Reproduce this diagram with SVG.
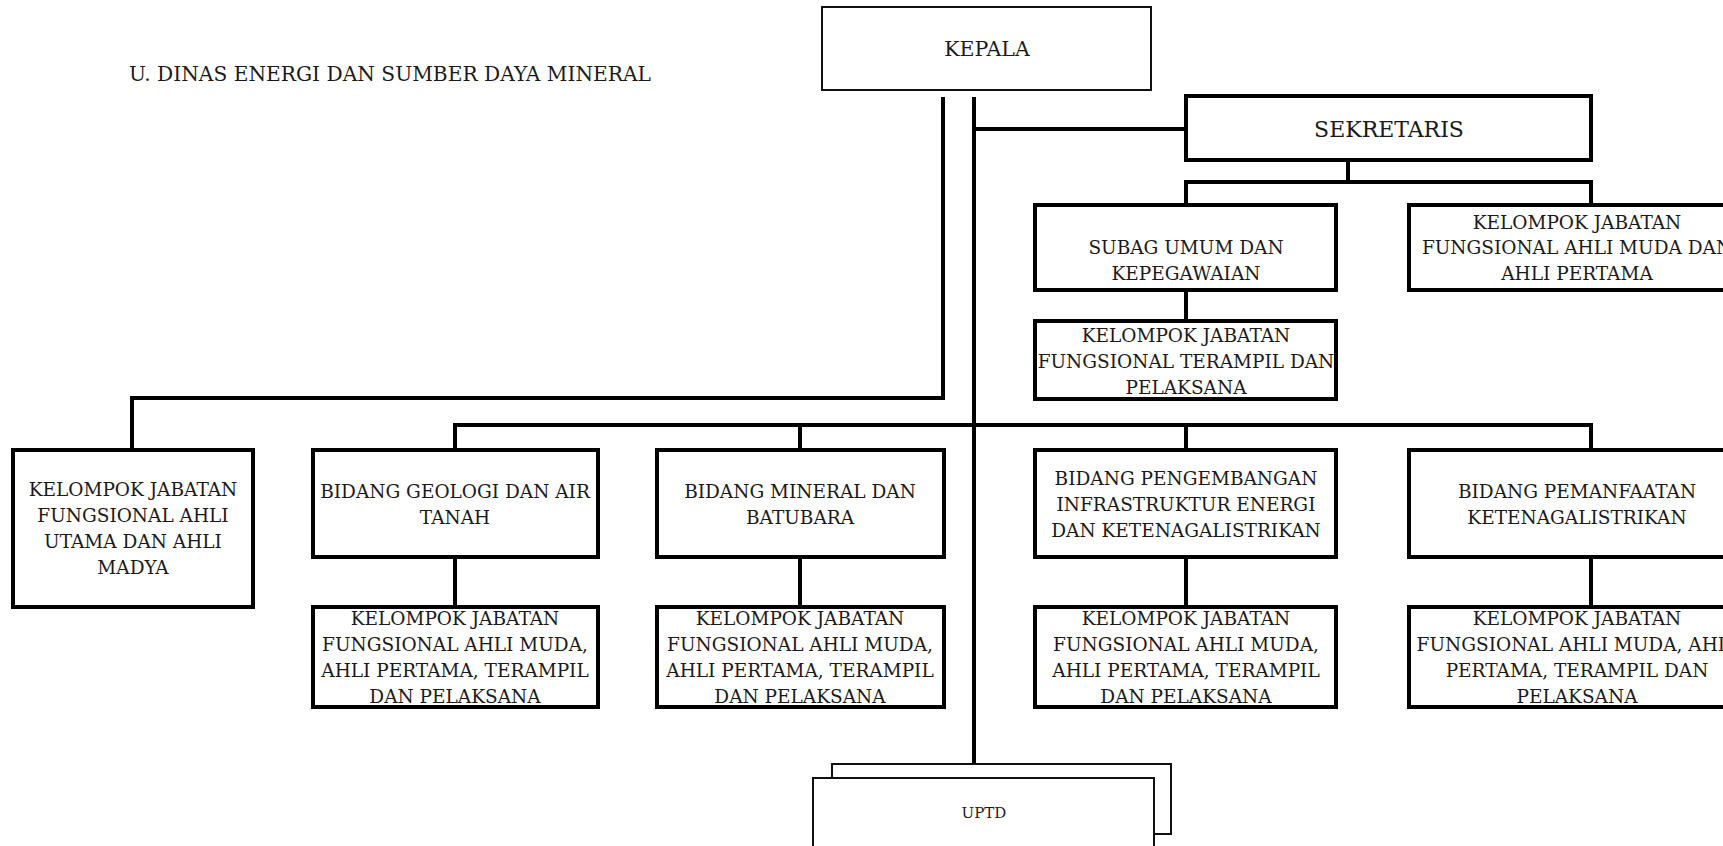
<svg xmlns="http://www.w3.org/2000/svg" width="1723" height="846" viewBox="0 0 1723 846">
<style>
.box{fill:#fff;stroke:#000;stroke-width:4}
.thin{fill:#fff;stroke:#111;stroke-width:2}
.ln{fill:none;stroke:#000;stroke-width:4}
text{font-family:"DejaVu Serif","Liberation Serif",serif;font-size:18.5px;fill:#1a1a1a;text-anchor:middle}
.title{font-size:20.2px;text-anchor:start}
</style>
<rect width="1723" height="846" fill="#fff"/>
<text class="title" x="129" y="81">U. DINAS ENERGI DAN SUMBER DAYA MINERAL</text>
<g id="connectors">
<path class="ln" d="M943 97V398H132V450"/>
<path class="ln" d="M974 97V764"/>
<path class="ln" d="M974 129H1186"/>
<path class="ln" d="M1348 160V182M1186 205V182H1591V205"/>
<path class="ln" d="M1186 290V321"/>
<path class="ln" d="M455 450V425H1591V450M800 425V450M1186 425V450"/>
<path class="ln" d="M455 557V607M800 557V607M1186 557V607M1591 557V607"/>
</g>
<g id="kepala"><rect class="thin" x="822" y="7" width="329" height="83"/><text x="987" y="56" style="font-size:20.5px">KEPALA</text></g>
<g id="sekretaris"><rect class="box" x="1186" y="96" width="405" height="64"/><text x="1389" y="137" style="font-size:22px">SEKRETARIS</text></g>
<g id="subag"><rect class="box" x="1035" y="205" width="301" height="85"/><text x="1186" y="254">SUBAG UMUM DAN</text><text x="1186" y="280">KEPEGAWAIAN</text></g>
<g id="kjf-sek"><rect class="box" x="1409" y="205" width="340" height="85"/><text x="1577" y="229">KELOMPOK JABATAN</text><text x="1577" y="254">FUNGSIONAL AHLI MUDA DAN</text><text x="1577" y="280">AHLI PERTAMA</text></g>
<g id="kjf-terampil"><rect class="box" x="1035" y="321" width="301" height="78"/><text x="1186" y="342">KELOMPOK JABATAN</text><text x="1186" y="368">FUNGSIONAL TERAMPIL DAN</text><text x="1186" y="394">PELAKSANA</text></g>
<g id="kjf-utama"><rect class="box" x="13" y="450" width="240" height="157"/><text x="133" y="496">KELOMPOK JABATAN</text><text x="133" y="522">FUNGSIONAL AHLI</text><text x="133" y="548">UTAMA DAN AHLI</text><text x="133" y="574">MADYA</text></g>
<g id="geologi"><rect class="box" x="313" y="450" width="285" height="107"/><text x="455" y="498">BIDANG GEOLOGI DAN AIR</text><text x="455" y="524">TANAH</text></g>
<g id="mineral"><rect class="box" x="657" y="450" width="287" height="107"/><text x="800" y="498">BIDANG MINERAL DAN</text><text x="800" y="524">BATUBARA</text></g>
<g id="pengembangan"><rect class="box" x="1035" y="450" width="301" height="107"/><text x="1186" y="485">BIDANG PENGEMBANGAN</text><text x="1186" y="511">INFRASTRUKTUR ENERGI</text><text x="1186" y="537">DAN KETENAGALISTRIKAN</text></g>
<g id="pemanfaatan"><rect class="box" x="1409" y="450" width="340" height="107"/><text x="1577" y="498">BIDANG PEMANFAATAN</text><text x="1577" y="524">KETENAGALISTRIKAN</text></g>
<g id="kjf-geologi"><rect class="box" x="313" y="607" width="285" height="100"/><text x="455" y="625">KELOMPOK JABATAN</text><text x="455" y="651">FUNGSIONAL AHLI MUDA,</text><text x="455" y="677">AHLI PERTAMA, TERAMPIL</text><text x="455" y="703">DAN PELAKSANA</text></g>
<g id="kjf-mineral"><rect class="box" x="657" y="607" width="287" height="100"/><text x="800" y="625">KELOMPOK JABATAN</text><text x="800" y="651">FUNGSIONAL AHLI MUDA,</text><text x="800" y="677">AHLI PERTAMA, TERAMPIL</text><text x="800" y="703">DAN PELAKSANA</text></g>
<g id="kjf-pengembangan"><rect class="box" x="1035" y="607" width="301" height="100"/><text x="1186" y="625">KELOMPOK JABATAN</text><text x="1186" y="651">FUNGSIONAL AHLI MUDA,</text><text x="1186" y="677">AHLI PERTAMA, TERAMPIL</text><text x="1186" y="703">DAN PELAKSANA</text></g>
<g id="kjf-pemanfaatan"><rect class="box" x="1409" y="607" width="340" height="100"/><text x="1577" y="625">KELOMPOK JABATAN</text><text x="1577" y="651">FUNGSIONAL AHLI MUDA, AHLI</text><text x="1577" y="677">PERTAMA, TERAMPIL DAN</text><text x="1577" y="703">PELAKSANA</text></g>
<g id="uptd"><rect class="thin" x="832" y="764" width="339" height="70"/><rect class="thin" x="813" y="778" width="341" height="90"/><text x="984" y="818" style="font-size:15px">UPTD</text></g>
</svg>
